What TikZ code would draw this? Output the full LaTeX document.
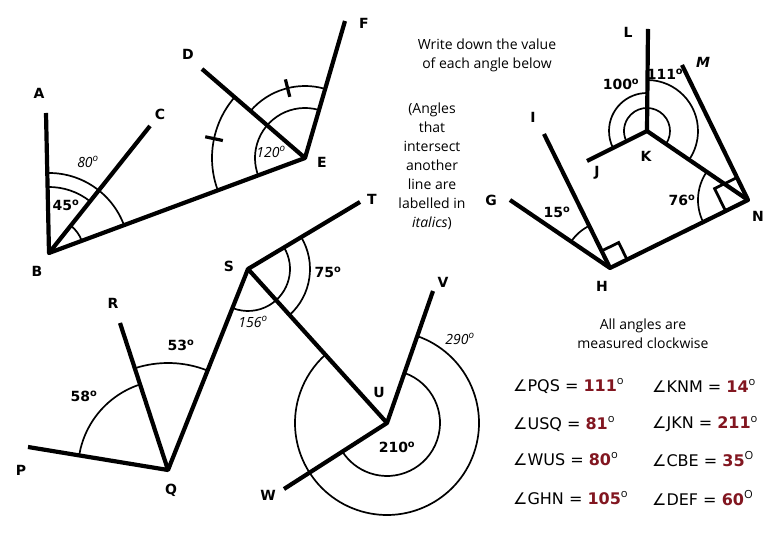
\documentclass[tikz,border=0pt]{standalone}
\usepackage{fontspec}
\setmainfont{DejaVu Sans}
\newfontfamily\thinfont{Open Sans}
\usetikzlibrary{calc}
\definecolor{ansred}{RGB}{130,22,32}
\newcommand{\dgo}{\textsuperscript{o}}
\newcommand{\dgr}{\textsuperscript{\mdseries\thinfont o}}
\newcommand{\dgR}{\textsuperscript{\mdseries\thinfont O}}
\tikzset{
  ray/.style={line width=4.2pt, line join=round},
  arcl/.style={line width=1.7pt},
  tick/.style={line width=3.2pt},
  sqmark/.style={line width=2.8pt, line join=miter},
  lbl/.style={font=\fontsize{14}{14}\selectfont\bfseries, inner sep=0pt},
  ilbl/.style={font=\thinfont\fontsize{14}{14}\selectfont\itshape, inner sep=0pt},
  note/.style={font=\thinfont\fontsize{14}{19}\selectfont, align=center, inner sep=0pt},
  eqn/.style={font=\fontsize{16}{16}\selectfont, anchor=west, inner sep=0pt},
}
\begin{document}
\begin{tikzpicture}[x=1pt,y=1pt]
\useasboundingbox[fill=white] (0,0) rectangle (780,540);
% points
\coordinate (A) at (46,427);
\coordinate (B) at (49,287);
\coordinate (C) at (150,414);
\coordinate (D) at (202,471);
\coordinate (E) at (305,382);
\coordinate (F) at (345,519);
\coordinate (S) at (248,271);
\coordinate (T) at (360,338);
\coordinate (Q) at (168,70);
\coordinate (P) at (28,93);
\coordinate (R) at (120,217);
\coordinate (U) at (387,117);
\coordinate (V) at (433,249);
\coordinate (W) at (284,51);
\coordinate (K) at (647,409);
\coordinate (L) at (648,511);
\coordinate (J) at (587,379);
\coordinate (N) at (748,340);
\coordinate (M) at (682,475);
\coordinate (H) at (610,272);
\coordinate (G) at (510,340);
\coordinate (I) at (544,406);
% rays
\draw[ray] (A) -- (B) -- (E);
\draw[ray] (B) -- (C);
\draw[ray] (D) -- (E) -- (F);
\draw[ray] (T) -- (S) -- (U);
\draw[ray] (P) -- (Q) -- (S);
\draw[ray] (R) -- (Q);
\draw[ray] (V) -- (U) -- (W);
\draw[ray] (L) -- (K) -- (N);
\draw[ray] (J) -- (K);
\draw[ray] (M) -- (N) -- (H) -- (G);
\draw[ray] (I) -- (H);
% arcs at B
\draw[arcl] ($(B)+(91.2:80)$) arc[start angle=91.2, end angle=20.4, radius=80];
\draw[arcl] ($(B)+(91.2:66)$) arc[start angle=91.2, end angle=51.5, radius=66];
\draw[arcl] ($(B)+(51.5:35)$) arc[start angle=51.5, end angle=20.4, radius=35];
% arcs at E
\draw[arcl] ($(E)+(73.7:50)$) arc[start angle=73.7, end angle=200.4, radius=50];
\draw[arcl] ($(E)+(139.2:93)$) arc[start angle=139.2, end angle=200.4, radius=93];
\draw[arcl] ($(E)+(73.7:72)$) arc[start angle=73.7, end angle=139.2, radius=72];
\draw[tick] ($(E)+(168:84)$) -- ($(E)+(168:102)$);
\draw[tick] ($(E)+(104:63)$) -- ($(E)+(104:81)$);
% arcs at Q
\draw[arcl] ($(Q)+(170.7:90)$) arc[start angle=170.7, end angle=108.1, radius=90];
\draw[arcl] ($(Q)+(108.1:107)$) arc[start angle=108.1, end angle=68.3, radius=107];
% arcs at S
\draw[arcl] ($(S)+(30.9:42)$) arc[start angle=30.9, end angle=-111.7, radius=42];
\draw[arcl] ($(S)+(30.9:62)$) arc[start angle=30.9, end angle=-47.9, radius=62];
% arcs at U
\draw[arcl] ($(U)+(70.8:53)$) arc[start angle=70.8, end angle=-147.4, radius=53];
\draw[arcl] ($(U)+(70.8:92)$) arc[start angle=70.8, end angle=-227.9, radius=92];
% arcs at K
\draw[arcl] ($(K)+(-34.3:23)$) arc[start angle=-34.3, end angle=206.6, radius=23];
\draw[arcl] ($(K)+(89.4:38)$) arc[start angle=89.4, end angle=206.6, radius=38];
\draw[arcl] ($(K)+(89.4:51)$) arc[start angle=89.4, end angle=-34.3, radius=51];
% arc at N, H
\draw[arcl] ($(N)+(145.7:50)$) arc[start angle=145.7, end angle=206.2, radius=50];
\draw[arcl] ($(H)+(116.2:47)$) arc[start angle=116.2, end angle=145.8, radius=47];
% right angle marks
\draw[sqmark] ($(H)+(116.2:19)$) -- ++(26.2:19) -- ($(H)+(26.2:19)$);
\draw[sqmark] ($(N)+(206.2:25)$) -- ++(116.05:25) -- ($(N)+(116.05:25)$);
% point labels
\node[lbl] (tA) at (39,447) {A};
\node[lbl] (tB) at (37,269) {B};
\node[lbl] (tC) at (160,426) {C};
\node[lbl] (tD) at (188,486) {D};
\node[lbl] (tE) at (322,378) {E};
\node[lbl] (tF) at (364,517) {F};
\node[lbl] (tT) at (372,341) {T};
\node[lbl] (tS) at (229,274) {S};
\node[lbl] (tL) at (628,508) {L};
\node[lbl] (tM) at (703,478) {\itshape M};
\node[lbl] (tI) at (533,423) {I};
\node[lbl] (tJ) at (597,367) {J};
\node[lbl] (tK) at (646,384) {K};
\node[lbl] (tG) at (491,340) {G};
\node[lbl] (tN) at (758,324) {N};
\node[lbl] (tH) at (602,254) {H};
\node[lbl] (tV) at (443,258) {V};
\node[lbl] (tR) at (113,237) {R};
\node[lbl] (tU) at (379,147) {U};
\node[lbl] (tP) at (21,70) {P};
\node[lbl] (tQ) at (171,50) {Q};
\node[lbl] (tW) at (268,45) {W};
% angle labels
\node[lbl] (a45) at (66,335) {45\dgo};
\node[ilbl] (a80) at (88,378) {80\dgo};
\node[ilbl] (a120) at (271,388) {120\dgo};
\node[lbl] (a75) at (328,268) {75\dgo};
\node[ilbl] (a156) at (253,218) {156\dgo};
\node[lbl] (a53) at (181,195) {53\dgo};
\node[lbl] (a58) at (84,144) {58\dgo};
\node[ilbl] (a290) at (460,201) {290\dgo};
\node[lbl] (a210) at (397,93) {210\dgo};
\node[lbl] (a15) at (557,328) {15\dgo};
\node[lbl] (a76) at (682,340) {76\dgo};
\node[lbl] (a100) at (621,456) {100\dgo};
\node[lbl] (a111) at (665,466) {111\dgo};
% notes
\node[note] (n1) at (487,485) {Write down the value\\of each angle below};
\node[note] (n2) at (432,374) {(Angles\\that\\intersect\\another\\line are\\labelled in\\\textit{italics})};
\node[note] (n3) at (643,206) {All angles are\\measured clockwise};
% equations
\node[eqn] (e1) at (513,154) {∠PQS = \textcolor{ansred}{\bfseries 111}\dgr};
\node[eqn] (e2) at (513,116) {∠USQ = \textcolor{ansred}{\bfseries 81}\dgr};
\node[eqn] (e3) at (513,81) {∠WUS = \textcolor{ansred}{\bfseries 80}\dgr};
\node[eqn] (e4) at (513,42) {∠GHN = \textcolor{ansred}{\bfseries 105}\dgr};
\node[eqn] (e5) at (652,154) {∠KNM = \textcolor{ansred}{\bfseries 14}\dgr};
\node[eqn] (e6) at (652,116) {∠JKN = \textcolor{ansred}{\bfseries 211}\dgr};
\node[eqn] (e7) at (652,81) {∠CBE = \textcolor{ansred}{\bfseries 35}\dgR};
\node[eqn] (e8) at (652,42) {∠DEF = \textcolor{ansred}{\bfseries 60}\dgR};
\end{tikzpicture}
\end{document}
